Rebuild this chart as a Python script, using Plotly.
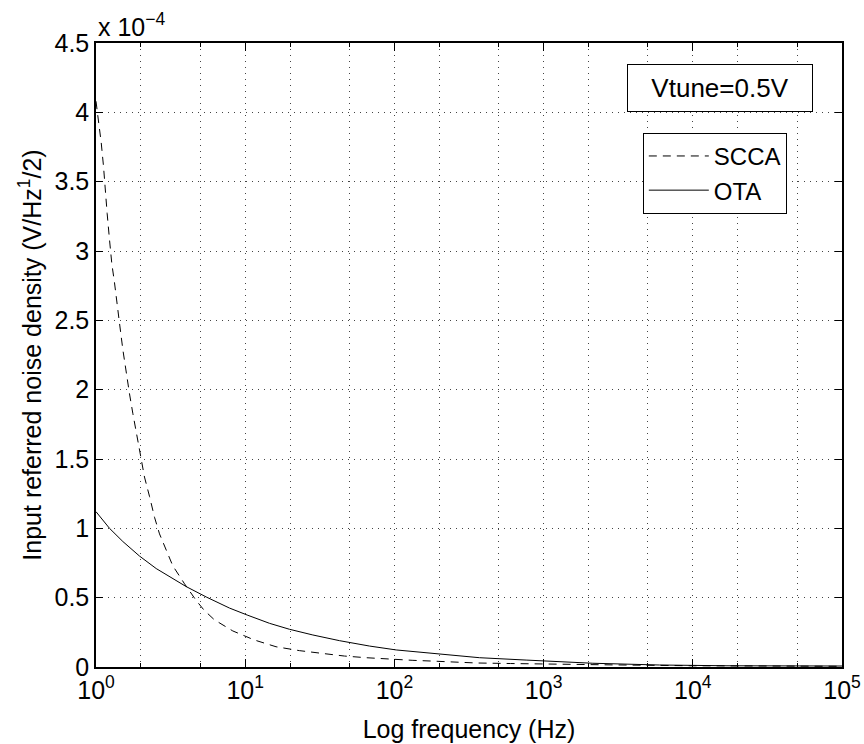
import plotly.graph_objects as go

# Data (noise density in V/sqrt(Hz))
scca_freq = [1.0, 1.028, 1.084, 1.123, 1.152, 1.188, 1.232, 1.276, 1.331, 1.378, 1.437,
             1.513, 1.593, 1.677, 1.765, 1.859, 1.978, 2.113, 2.284, 2.467, 2.665, 2.95,
             3.27, 3.92, 4.69, 5.3, 6.22, 8.26, 11.5, 16.1, 23.1, 32.3, 46.3, 64.7, 92.7,
             133, 186, 273, 353, 600, 1000, 3000, 10000, 30000, 100000]
scca_val = [4.08, 3.98, 3.78, 3.61, 3.44, 3.27, 3.08, 2.91, 2.77, 2.62, 2.48,
            2.29, 2.12, 1.97, 1.83, 1.69, 1.52, 1.37, 1.23, 1.08, 0.96, 0.84,
            0.73, 0.60, 0.48, 0.41, 0.34, 0.26, 0.195, 0.146, 0.118, 0.099, 0.079, 0.067, 0.055,
            0.048, 0.042, 0.034, 0.029, 0.025, 0.021, 0.015, 0.009, 0.007, 0.005]
scca_val = [v * 1e-4 for v in scca_val]

ota_freq = [1.0, 1.232, 1.513, 1.957, 2.532, 3.27, 4.02, 5.48, 7.85, 10.3, 14.55, 19.8,
            28.4, 42.8, 68.1, 102.8, 171.8, 287, 372, 764, 2137, 5980, 16700, 100000]
ota_val = [1.12, 1.0, 0.905, 0.80, 0.71, 0.635, 0.58, 0.505, 0.425, 0.375, 0.315, 0.272,
           0.231, 0.19, 0.151, 0.123, 0.099, 0.076, 0.067, 0.05, 0.027, 0.0144, 0.009, 0.007]
ota_val = [v * 1e-4 for v in ota_val]

x_ticks = [1, 10, 100, 1000, 10000, 100000]
x_tick_text = ["10<sup>0</sup>", "10<sup>1</sup>", "10<sup>2</sup>", "10<sup>3</sup>",
               "10<sup>4</sup>", "10<sup>5</sup>"]
y_ticks = [0, 0.5e-4, 1e-4, 1.5e-4, 2e-4, 2.5e-4, 3e-4, 3.5e-4, 4e-4, 4.5e-4]
y_tick_text = ["0", "0.5", "1", "1.5", "2", "2.5", "3", "3.5", "4", "4.5"]

FONT = "Liberation Sans, Arial, Helvetica, sans-serif"
GRID = "#444444"

fig = go.Figure()
fig.add_trace(go.Scatter(x=scca_freq, y=scca_val, mode="lines", name="SCCA",
                         line=dict(color="black", width=1, dash="8px,6px")))
fig.add_trace(go.Scatter(x=ota_freq, y=ota_val, mode="lines", name="OTA",
                         line=dict(color="black", width=1)))

fig.update_layout(
    width=864, height=744,
    margin=dict(l=96, r=22, t=43, b=77),
    paper_bgcolor="white", plot_bgcolor="white",
    font=dict(family=FONT, size=25, color="black"),
    showlegend=True,
    legend=dict(x=0.733, y=0.856, xanchor="left", yanchor="top",
                bordercolor="black", borderwidth=1, bgcolor="white",
                font=dict(size=24), itemwidth=60, tracegroupgap=0),
    xaxis=dict(type="log", range=[0, 5], tickvals=x_ticks, ticktext=x_tick_text,
               ticks="inside", ticklen=8, tickcolor="black", mirror="ticks",
               showline=True, linecolor="black", linewidth=1.5,
               showgrid=True, gridcolor=GRID, gridwidth=1, griddash="1px,5px",
               minor=dict(ticks="inside", ticklen=4, tickcolor="black",
                          showgrid=True, gridcolor=GRID, gridwidth=1, griddash="1px,5px"),
               title=dict(text="Log frequency (Hz)", font=dict(size=25), standoff=18),
               tickfont=dict(size=25), zeroline=False, automargin=False),
    yaxis=dict(range=[0, 4.5e-4], tickvals=y_ticks, ticktext=y_tick_text,
               ticks="inside", ticklen=7, tickcolor="black", mirror="ticks",
               showline=True, linecolor="black", linewidth=1.5,
               showgrid=True, gridcolor=GRID, gridwidth=1, griddash="1px,5px",
               title=dict(text="Input referred noise density (V/Hz<sup>1</sup>/2)",
                          font=dict(size=25), standoff=6),
               tickfont=dict(size=25), zeroline=False, automargin=False),
    annotations=[
        dict(text="x 10<sup>\u22124</sup>", xref="paper", yref="paper", x=0.0, y=1.0,
             xanchor="left", yanchor="bottom", showarrow=False, font=dict(size=25)),
        dict(text="Vtune=0.5V", xref="paper", yref="paper", x=0.836, y=0.928,
             xanchor="center", yanchor="middle", showarrow=False, font=dict(size=26),
             bordercolor="black", borderwidth=1, borderpad=2, bgcolor="white",
             width=180, height=42),
    ],
)

fig.write_html("out.html")
